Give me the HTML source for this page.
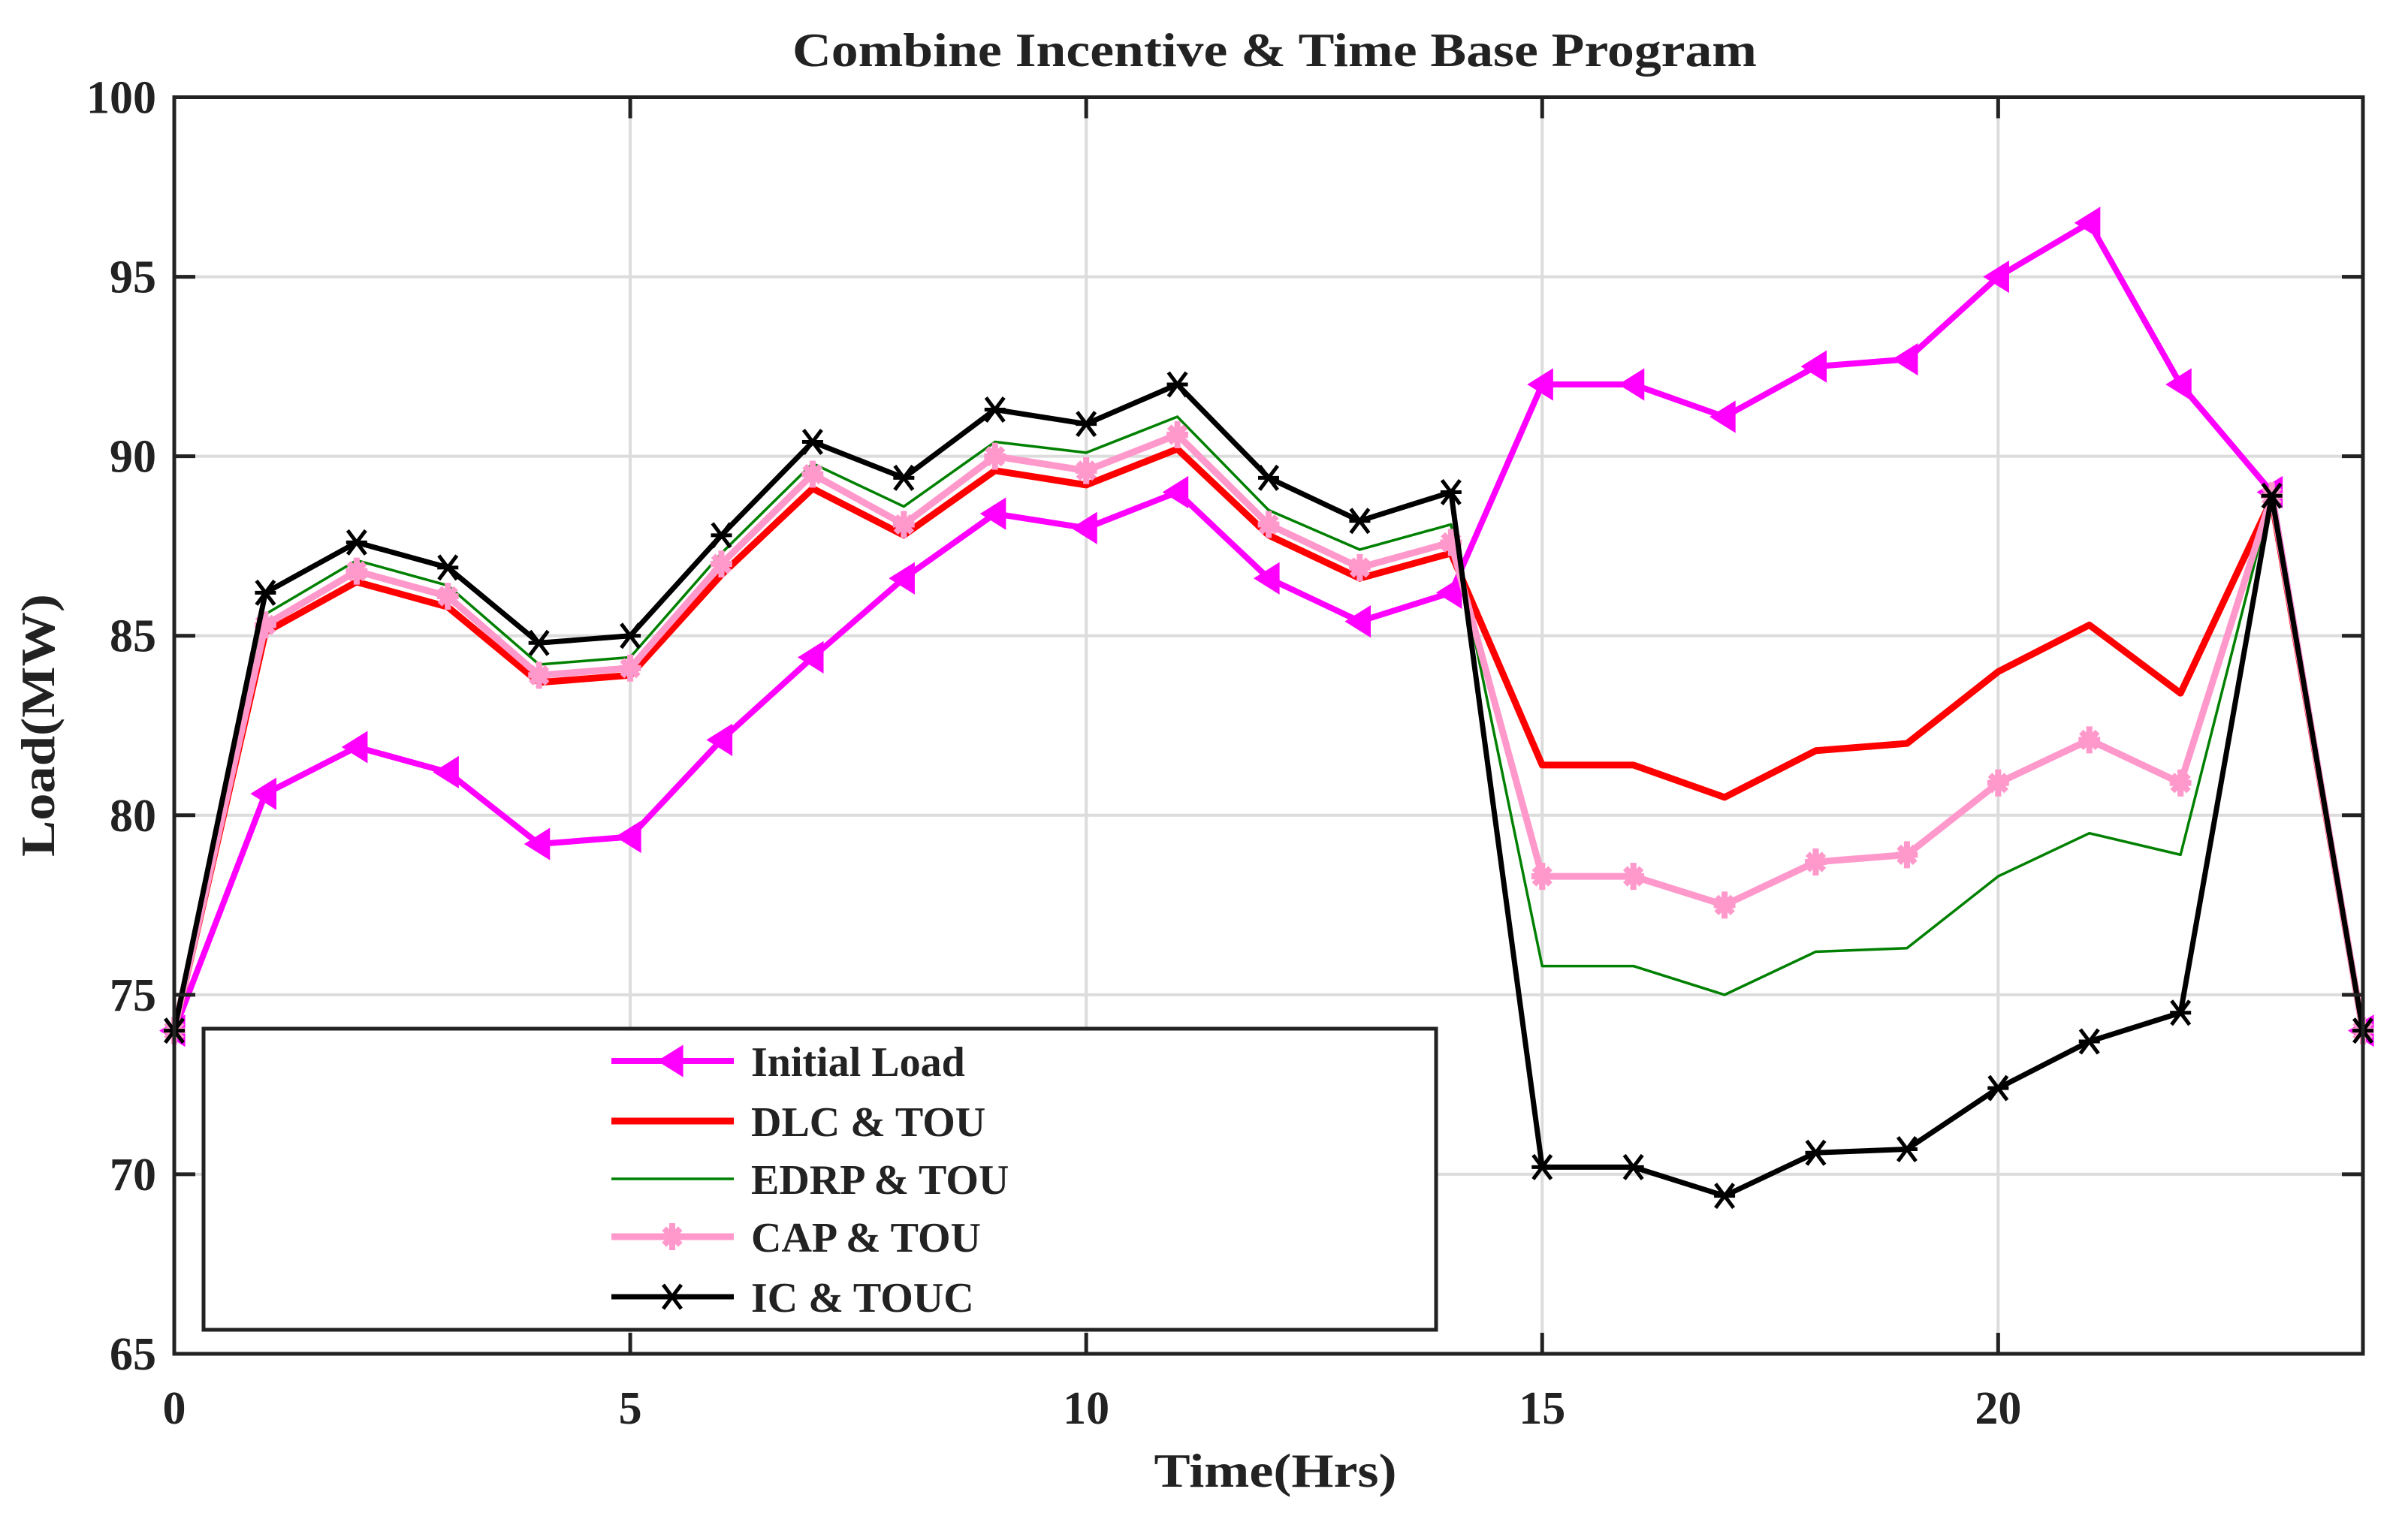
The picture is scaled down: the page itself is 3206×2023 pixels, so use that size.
<!DOCTYPE html>
<html><head><meta charset="utf-8"><style>
html,body{margin:0;padding:0;background:#fff}
svg{display:block}
text{font-family:"Liberation Serif",serif;font-weight:bold;fill:#222}
</style></head><body>
<svg id="chart" width="3206" height="2023" viewBox="0 0 3206 2023">
<rect x="0" y="0" width="3206" height="2023" fill="#fff"/>
<text x="1697" y="88" text-anchor="middle" font-size="64" textLength="1284" lengthAdjust="spacingAndGlyphs">Combine Incentive &amp; Time Base Program</text>
<g id="grid"></g>
<g id="series"></g>
<rect x="232" y="129.5" width="2914" height="1673.5" fill="none" stroke="#222" stroke-width="5"/>
<g id="ticks"></g>
<text x="1698" y="1980" text-anchor="middle" font-size="64" textLength="323" lengthAdjust="spacingAndGlyphs">Time(Hrs)</text>
<text transform="translate(72,966) rotate(-90)" text-anchor="middle" font-size="64" textLength="350" lengthAdjust="spacingAndGlyphs">Load(MW)</text>
<g id="legend">
<rect x="271" y="1370" width="1641" height="401" fill="#fff" stroke="#222" stroke-width="5"/>
</g>
</svg>
<script>
const hours = [0,1,2,3,4,5,6,7,8,9,10,11,12,13,14,15,16,17,18,19,20,21,22,23,24];
const initialLoad = [74,80.6,81.9,81.2,79.2,79.4,82.1,84.4,86.6,88.4,88,89,86.6,85.4,86.2,92,92,91.1,92.5,92.7,95,96.5,92,89,74];
const dlcTou = [74,85.1,86.5,85.8,83.7,83.9,86.7,89.1,87.8,89.6,89.2,90.2,87.8,86.6,87.3,81.4,81.4,80.5,81.8,82,84,85.3,83.4,88.8,74];
const edrpTou = [74,85.6,87.1,86.4,84.2,84.4,87.3,89.8,88.6,90.4,90.1,91.1,88.5,87.4,88.1,75.8,75.8,75,76.2,76.3,78.3,79.5,78.9,88.9,74];
const capTou = [74,85.3,86.8,86.1,83.9,84.1,87,89.5,88.1,90,89.6,90.6,88.1,86.9,87.6,78.3,78.3,77.5,78.7,78.9,80.9,82.1,80.9,88.9,74];
const icTouc = [74,86.2,87.6,86.9,84.8,85,87.8,90.4,89.4,91.3,90.9,92,89.4,88.2,89,70.2,70.2,69.4,70.6,70.7,72.4,73.7,74.5,88.9,74];
const xTicks = [0,5,10,15,20];
const yTicks = [65,70,75,80,85,90,95,100];
const seriesNames = ["Initial Load","DLC & TOU","EDRP & TOU","CAP & TOU","IC & TOUC"];

const NS="http://www.w3.org/2000/svg";
const X0=232,X1=3146,Y0=1803,Y1=129.5,XMIN=0,XMAX=24,YMIN=65,YMAX=100;
function xs(v){return X0+(v-XMIN)/(XMAX-XMIN)*(X1-X0);}
function ys(v){return Y0-(v-YMIN)/(YMAX-YMIN)*(Y0-Y1);}
function mk(tag,attrs,parent){const e=document.createElementNS(NS,tag);for(const k in attrs)e.setAttribute(k,attrs[k]);parent.appendChild(e);return e;}

const grid=document.getElementById('grid'),ticks=document.getElementById('ticks');
xTicks.forEach(t=>{
  const g=mk('line',{x1:xs(t),x2:xs(t),y1:Y1,y2:Y0,stroke:'#dcdcdc','stroke-width':4},grid);
  
  
  const a=mk('line',{x1:xs(t),x2:xs(t),y1:Y0,y2:Y0-28,stroke:'#222','stroke-width':5},ticks);
  
  
  const b=mk('line',{x1:xs(t),x2:xs(t),y1:Y1,y2:Y1+28,stroke:'#222','stroke-width':5},ticks);
  
  
  const l=mk('text',{x:xs(t),y:1896,'text-anchor':'middle','font-size':62},ticks);
  l.textContent=t;
  
  
});
yTicks.forEach(t=>{
  const g=mk('line',{x1:X0,x2:X1,y1:ys(t),y2:ys(t),stroke:'#dcdcdc','stroke-width':4},grid);
  
  
  const a=mk('line',{x1:X0,x2:X0+28,y1:ys(t),y2:ys(t),stroke:'#222','stroke-width':5},ticks);
  
  
  const b=mk('line',{x1:X1,x2:X1-28,y1:ys(t),y2:ys(t),stroke:'#222','stroke-width':5},ticks);
  
  
  const l=mk('text',{x:208,y:ys(t)+21,'text-anchor':'end','font-size':62},ticks);
  l.textContent=t;
  
  
});

function marker(type,cx,cy,color,parent,s){
  if(type==='tri'){
    return mk('polygon',{points:`${cx-18*s},${cy} ${cx+14*s},${cy-20*s} ${cx+14*s},${cy+20*s}`,fill:color,stroke:color,'stroke-width':4},parent);
  } else if(type==='star'){
    const g=mk('g',{stroke:color,'stroke-width':9*s},parent);
    mk('line',{x1:cx-16*s,x2:cx+16*s,y1:cy,y2:cy},g);
    mk('line',{x1:cx,x2:cx,y1:cy-20*s,y2:cy+20*s},g);
    mk('line',{x1:cx-12*s,x2:cx+12*s,y1:cy-12*s,y2:cy+12*s},g);
    mk('line',{x1:cx-12*s,x2:cx+12*s,y1:cy+12*s,y2:cy-12*s},g);
    return g;
  } else if(type==='x'){
    const g=mk('g',{stroke:color,'stroke-width':5},parent);
    mk('line',{x1:cx-12,x2:cx+12,y1:cy-16,y2:cy+16},g);
    mk('line',{x1:cx-12,x2:cx+12,y1:cy+16,y2:cy-16},g);
    mk('line',{x1:cx-14,x2:cx+14,y1:cy,y2:cy},g);
    return g;
  }
  return null;
}

const seriesDefs=[
 {data:initialLoad,color:'#ff00ff',w:8,m:'tri',name:'series-initial-load'},
 {data:dlcTou,color:'#ff0000',w:9,m:null,name:'series-dlc-tou'},
 {data:edrpTou,color:'#008000',w:3.5,m:null,name:'series-edrp-tou'},
 {data:capTou,color:'#ff99cc',w:9,m:'star',name:'series-cap-tou'},
 {data:icTouc,color:'#000000',w:7,m:'x',name:'series-ic-touc'}
];
const sg=document.getElementById('series');
seriesDefs.forEach(sd=>{
  const g=mk('g',{},sg);
  
  
  const pts=sd.data.map((v,i)=>xs(hours[i])+','+ys(v)).join(' ');
  const pl=mk('polyline',{points:pts,fill:'none',stroke:sd.color,'stroke-width':sd.w,'stroke-linejoin':'round'},g);
  
  
  if(sd.m){
    sd.data.forEach((v,i)=>{
      const m=marker(sd.m,xs(hours[i]),ys(v),sd.color,g,0.9);
      
      
    });
  }
});

const lg=document.getElementById('legend');
const legY=[1413,1493,1570,1647,1727];
seriesDefs.forEach((sd,i)=>{
  const g=mk('g',{},lg);
  
  
  mk('line',{x1:814,x2:977,y1:legY[i],y2:legY[i],stroke:sd.color,'stroke-width':sd.w},g);
  if(sd.m) marker(sd.m,895,legY[i],sd.color,g,0.9);
  const t=mk('text',{x:1000,y:legY[i]+20,'font-size':56},g);
  t.textContent=seriesNames[i];
});
</script>
</body></html>
